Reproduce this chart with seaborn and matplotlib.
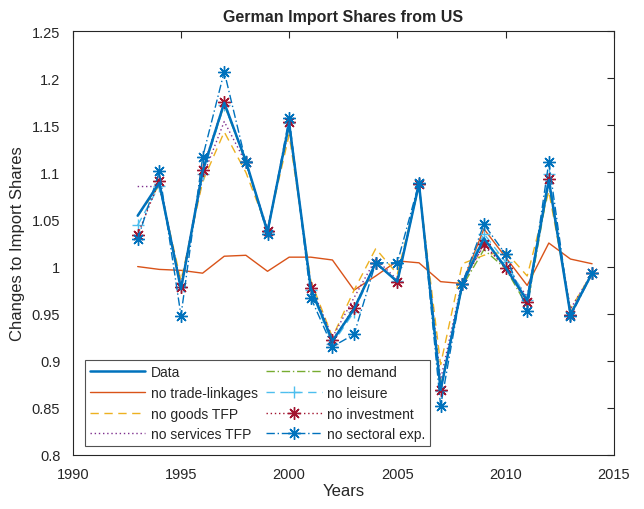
import matplotlib
matplotlib.use("Agg")
import matplotlib.pyplot as plt
import seaborn as sns
import numpy as np

years = list(range(1993, 2015))

data = [1.054, 1.089, 0.976, 1.101, 1.174, 1.112, 1.037, 1.152, 0.977, 0.921, 0.955, 1.004, 0.984, 1.088, 0.869, 0.981, 1.030, 0.999, 0.964, 1.092, 0.949, 0.993]
no_trade = [1.000, 0.997, 0.996, 0.993, 1.011, 1.012, 0.995, 1.010, 1.010, 1.007, 0.975, 0.990, 1.006, 1.004, 0.984, 0.982, 1.040, 1.010, 0.980, 1.025, 1.008, 1.003]
no_goods = [1.054, 1.086, 0.985, 1.090, 1.143, 1.100, 1.040, 1.140, 0.985, 0.925, 0.975, 1.019, 0.992, 1.085, 0.896, 1.003, 1.012, 1.016, 0.990, 1.080, 0.955, 0.993]
no_services = [1.085, 1.085, 0.980, 1.095, 1.154, 1.110, 1.040, 1.148, 0.980, 0.925, 0.967, 1.008, 0.986, 1.088, 0.880, 0.985, 1.022, 1.000, 0.968, 1.090, 0.955, 0.993]
no_demand = [1.054, 1.088, 0.977, 1.100, 1.172, 1.111, 1.037, 1.150, 0.978, 0.921, 0.956, 1.004, 0.984, 1.087, 0.872, 0.979, 1.018, 0.998, 0.958, 1.088, 0.950, 0.993]
no_leisure = [1.044, 1.086, 0.978, 1.098, 1.172, 1.112, 1.037, 1.152, 0.975, 0.918, 0.952, 1.004, 0.985, 1.088, 0.868, 0.981, 1.035, 1.005, 0.965, 1.098, 0.949, 0.993]
no_investment = [1.034, 1.091, 0.978, 1.103, 1.175, 1.111, 1.038, 1.153, 0.977, 0.922, 0.956, 1.004, 0.984, 1.088, 0.869, 0.981, 1.024, 0.999, 0.962, 1.093, 0.949, 0.993]
no_sectoral = [1.029, 1.101, 0.948, 1.116, 1.207, 1.111, 1.035, 1.158, 0.967, 0.915, 0.928, 1.004, 1.004, 1.089, 0.852, 0.982, 1.045, 1.013, 0.953, 1.111, 0.947, 0.993]

labels = ["Data", "no trade-linkages", "no goods TFP", "no services TFP",
          "no demand", "no leisure", "no investment", "no sectoral exp."]
series = [data, no_trade, no_goods, no_services, no_demand, no_leisure, no_investment, no_sectoral]
colors = ["#0072BD", "#D95319", "#EDB120", "#7E2F8E", "#77AC30", "#4DBEEE", "#A2142F", "#0072BD"]
styles = ["-", "-", (0, (6, 4)), (0, (1, 2)), (0, (6, 2, 1, 2)), (0, (6, 4)), (0, (1, 2)), (0, (6, 2, 1, 2))]
widths = [1.8, 1.0, 1.0, 1.0, 1.0, 1.0, 1.0, 1.0]
asterisk = (8, 2, 0)
markers = [None, None, None, None, None, "+", asterisk, asterisk]

sns.set_style("white")
plt.rcParams['font.family'] = ['Liberation Sans', 'DejaVu Sans']

fig = plt.figure(figsize=(6.44, 5.10), dpi=100)
ax = fig.add_axes([0.113, 0.106, 0.840, 0.831])

for i in range(len(series)):
    sns.lineplot(x=years, y=series[i], ax=ax, color=colors[i], linestyle=styles[i],
                 linewidth=widths[i], marker=markers[i], markersize=9,
                 markeredgewidth=1.0, markeredgecolor=colors[i], label=labels[i],
                 zorder=3 if i == 0 else 2)

ax.set_xlim(1990, 2015)
ax.set_ylim(0.8, 1.25)
ax.set_xticks([1990, 1995, 2000, 2005, 2010, 2015])
ax.set_yticks([0.8, 0.85, 0.9, 0.95, 1.0, 1.05, 1.1, 1.15, 1.2, 1.25])
ax.set_yticklabels(["0.8", "0.85", "0.9", "0.95", "1", "1.05", "1.1", "1.15", "1.2", "1.25"])
ax.tick_params(direction="in", length=5, width=0.8, top=True, right=True,
               labelsize=10.5, colors="#262626", labelcolor="#262626")
ax.tick_params(axis="x", pad=9)
ax.tick_params(axis="y", pad=9)
for s in ax.spines.values():
    s.set_color("#262626")
    s.set_linewidth(0.8)

ax.set_title("German Import Shares from US", fontsize=11.5, fontweight="bold", pad=7)
ax.set_xlabel("Years", fontsize=12, color="#262626", labelpad=1)
ax.set_ylabel("Changes to Import Shares", fontsize=12, color="#262626", labelpad=5)

leg = ax.legend(loc="lower left", bbox_to_anchor=(0.022, 0.021), borderaxespad=0,
                ncol=2, fontsize=10, frameon=True, fancybox=False, edgecolor="#262626",
                handlelength=4.0, handletextpad=0.4, columnspacing=0.6,
                labelspacing=0.48, borderpad=0.35)
leg.get_frame().set_linewidth(0.8)

fig.savefig("out.png", dpi=100)
